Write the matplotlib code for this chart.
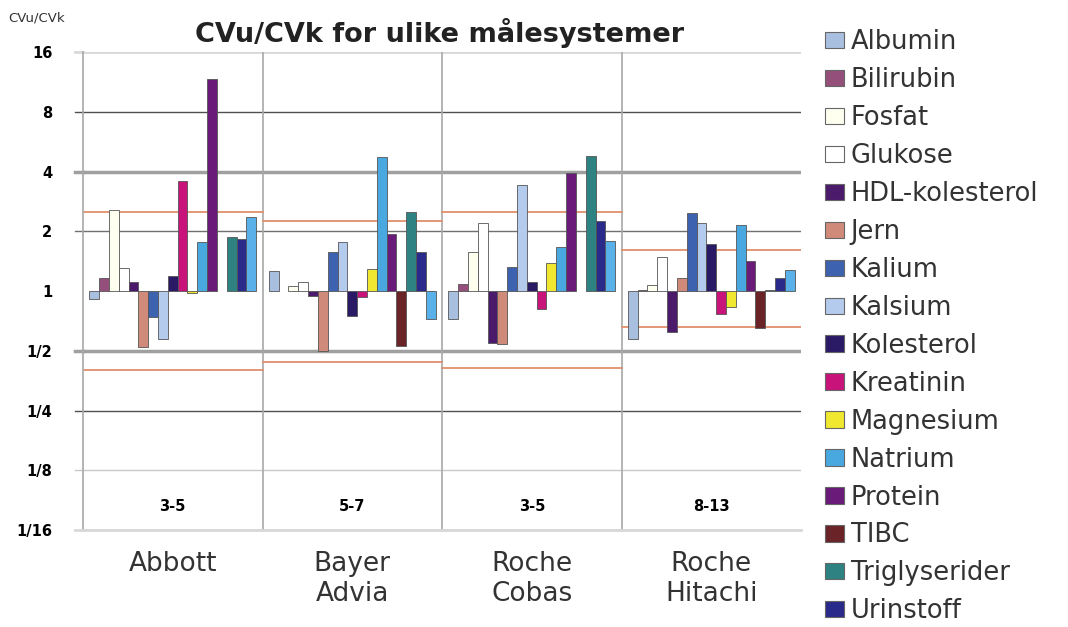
import numpy as np
import matplotlib.pyplot as plt
from matplotlib.patches import Patch

# Data (CVu/CVk, log2 scale, bars start at 1)
systems = ['Abbott', 'Bayer\nAdvia', 'Roche\nCobas', 'Roche\nHitachi']
ranges = ['3-5', '5-7', '3-5', '8-13']
analytes = ['Albumin', 'Bilirubin', 'Fosfat', 'Glukose', 'HDL-kolesterol', 'Jern',
            'Kalium', 'Kalsium', 'Kolesterol', 'Kreatinin', 'Magnesium', 'Natrium',
            'Protein', 'TIBC', 'Triglyserider', 'Urinstoff', '']  # last series has no legend entry

abbott = [0.91, 1.16, 2.56, 1.31, 1.11, 0.52, 0.74, 0.57, 1.19, 3.58, 0.98, 1.77,
          11.7, np.nan, 1.87, 1.83, 2.36]
bayer = [1.26, np.nan, 1.06, 1.11, 0.94, 0.50, 1.57, 1.77, 0.75, 0.93, 1.29, 4.73,
         1.94, 0.53, 2.5, 1.57, 0.72]
cobas = [0.72, 1.08, 1.57, 2.2, 0.55, 0.54, 1.32, 3.42, 1.11, 0.81, 1.38, 1.67,
         3.93, np.nan, 4.79, 2.25, 1.79]
hitachi = [0.57, 1.01, 1.07, 1.48, 0.62, 1.16, 2.47, 2.2, 1.72, 0.77, 0.83, 2.15,
           1.42, 0.65, 1.01, 1.16, 1.27]

upper_limit = [2.5, 2.25, 2.5, 1.6]
lower_limit = [0.4, 0.44, 0.41, 0.66]

colors = ['#a9bfe0', '#94507a', '#fffff0', '#ffffff', '#4b1a6b', '#d08a7a',
          '#3d62b0', '#b4cbee', '#2a1a66', '#c8147a', '#f0e830', '#4aa8e0',
          '#6a1a78', '#6a2428', '#2e8282', '#2a2a8a', '#5ab0e8']

values = np.array([abbott, bayer, cobas, hitachi])

fig = plt.figure(figsize=(10.68, 6.27), dpi=100)
ax = fig.add_axes([83 / 1068, 1 - 530 / 627, 718 / 1068, 478 / 627])
ax.set_yscale('log', base=2)
ax.set_ylim(1 / 16, 16)
ax.set_xlim(-0.5, 3.5)

# Gridlines, Excel style
grid_style = {8: ('#505050', 1.0), 4: ('#a0a0a0', 2.5), 2: ('#707070', 1.0),
              0.5: ('#a0a0a0', 2.5), 0.25: ('#505050', 1.0), 0.125: ('#c8c8c8', 1.0),
              16: ('#d8d8d8', 2.0), 1 / 16: ('#d8d8d8', 2.0)}
for y, (c, lw) in grid_style.items():
    ax.axhline(y, color=c, lw=lw, zorder=1)
    ax.plot([-0.545, -0.5], [y, y], color=c, lw=lw, clip_on=False, zorder=1)
for xb in [0.5, 1.5, 2.5]:
    ax.axvline(xb, color='#a8a8a8', lw=1.2, zorder=1)

n = len(analytes)
w = 0.93 / n
x = np.arange(len(systems))
for i in range(n):
    v = values[:, i]
    ax.bar(x - 0.465 + w * (i + 0.5), v - 1, bottom=1, width=w,
           color=colors[i], edgecolor='#555555', linewidth=0.6, zorder=3)

# Limit lines for each system
for j in range(len(systems)):
    ax.plot([j - 0.5, j + 0.5], [upper_limit[j], upper_limit[j]], color='#e0906a', lw=1.3, zorder=2)
    ax.plot([j - 0.5, j + 0.5], [lower_limit[j], lower_limit[j]], color='#e0906a', lw=1.3, zorder=2)
    ax.text(j, 0.082, ranges[j], ha='center', va='center', fontsize=10.5, fontweight='bold')

ax.set_yticks([16, 8, 4, 2, 1, 0.5, 0.25, 0.125, 1 / 16])
ax.set_yticklabels(['16', '8', '4', '2', '1', '1/2', '1/4', '1/8', '1/16'],
                   fontsize=10.5, fontweight='bold')
ax.tick_params(axis='y', length=0, pad=22)
ax.minorticks_off()
ax.set_xticks(x)
ax.set_xticklabels(systems, fontsize=19, color='#333333', linespacing=1.2)
ax.tick_params(axis='x', length=0, pad=15)

for s in ['top', 'right']:
    ax.spines[s].set_visible(False)
ax.spines['left'].set_color('#a8a8a8')
ax.spines['left'].set_linewidth(1.2)
ax.spines['bottom'].set_color('#d8d8d8')
ax.spines['bottom'].set_linewidth(2)

fig.text(440 / 1068, 1 - 33 / 627, 'CVu/CVk for ulike målesystemer', ha='center', va='center',
         fontsize=19.5, fontweight='bold', color='#222222')
fig.text(8 / 1068, 1 - 18 / 627, 'CVu/CVk', ha='left', va='center', fontsize=9.5, color='#333333')

handles = [Patch(facecolor=colors[i], edgecolor='#666666', linewidth=0.8, label=analytes[i])
           for i in range(16)]
fig.legend(handles=handles, loc='upper left', bbox_to_anchor=(802 / 1068, 1 - 6 / 627),
           frameon=False, fontsize=18.5, labelspacing=0.465, handlelength=0.75,
           handleheight=0.6, handletextpad=0.25, labelcolor='#333333')

fig.savefig('out.png', dpi=100)
